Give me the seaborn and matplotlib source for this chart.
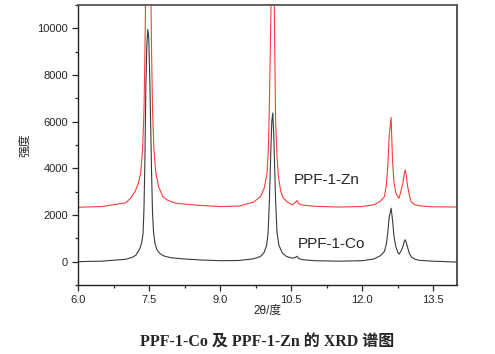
import numpy as np
import pandas as pd
import matplotlib
matplotlib.use("Agg")
import matplotlib.pyplot as plt
import seaborn as sns
from matplotlib.ticker import MultipleLocator

sns.set_style("ticks")
plt.rcParams['font.family'] = ['Liberation Sans', 'Noto Sans CJK SC', 'DejaVu Sans']

# XRD patterns (2theta in degrees, intensity)
co_x = [6.0, 6.5, 7.0, 7.15, 7.22, 7.30, 7.34, 7.37, 7.39, 7.41, 7.43, 7.45, 7.47, 7.49, 7.51,
        7.53, 7.55, 7.57, 7.59, 7.62, 7.66, 7.72, 7.8, 7.95, 8.2, 8.6, 9.0, 9.4, 9.7,
        9.85, 9.93, 9.98, 10.01, 10.04, 10.07, 10.09, 10.11, 10.13, 10.15, 10.17, 10.20, 10.24,
        10.31, 10.40, 10.52, 10.58, 10.62, 10.66, 10.75, 11.0, 11.5, 12.0,
        12.25, 12.38, 12.47, 12.51, 12.54, 12.57, 12.61, 12.64, 12.67, 12.71, 12.75, 12.78,
        12.82, 12.86, 12.89, 12.91, 12.93, 12.96, 13.00, 13.05, 13.12, 13.21, 13.5, 14.0]
co_y = [0, 20, 100, 190, 280, 550, 800, 1200, 2300, 4500, 7600, 9300, 9950, 9600, 8000,
        6000, 3800, 2100, 1300, 800, 520, 360, 250, 170, 120, 70, 40, 50, 120,
        220, 400, 700, 1200, 2650, 4800, 6000, 6370, 5500, 4060, 2600, 1240, 700,
        380, 220, 150, 170, 230, 130, 80, 40, 20, 40,
        115, 250, 440, 750, 1240, 1900, 2290, 1800, 1100, 650, 400, 320,
        450, 650, 880, 940, 820, 600, 330, 180, 100, 55, 20, -20]

zn_x = [6.0, 6.5, 7.0, 7.1, 7.2, 7.27, 7.32, 7.36, 7.39, 7.41, 7.43, 7.46, 7.48, 7.50, 7.53,
        7.55, 7.57, 7.60, 7.64, 7.70, 7.79, 7.9, 8.07, 8.5, 9.0, 9.4, 9.7,
        9.85, 9.93, 9.99, 10.02, 10.04, 10.07, 10.10, 10.12, 10.15, 10.17, 10.20, 10.23, 10.28,
        10.33, 10.42, 10.52, 10.58, 10.62, 10.66, 10.75, 11.0, 11.5, 12.0,
        12.25, 12.38, 12.47, 12.51, 12.54, 12.57, 12.61, 12.64, 12.67, 12.71, 12.75, 12.78,
        12.82, 12.86, 12.89, 12.91, 12.93, 12.96, 13.00, 13.03, 13.10, 13.21, 13.5, 14.0]
zn_y = [2330, 2360, 2520, 2700, 3000, 3350, 3800, 4800, 6500, 9000, 12500, 18000, 20000, 18000, 12500,
        9000, 6500, 4800, 3800, 3200, 2780, 2620, 2500, 2420, 2360, 2380, 2550,
        2780, 3150, 3800, 5000, 6900, 10500, 15000, 15000, 9500, 6000, 4500, 3630, 3000,
        2730, 2550, 2430, 2520, 2620, 2480, 2420, 2370, 2340, 2360,
        2440, 2580, 2790, 3300, 4070, 5400, 6180, 4360, 3400, 2950, 2780, 2720,
        3050, 3380, 3800, 3930, 3700, 3220, 2800, 2580, 2450, 2390, 2350, 2340]

samples = ["PPF-1-Co", "PPF-1-Zn"]
colors = {"PPF-1-Co": "#3a3a3a", "PPF-1-Zn": "#ff3b3b"}

df = pd.concat([
    pd.DataFrame({"x": co_x, "y": co_y, "sample": samples[0]}),
    pd.DataFrame({"x": zn_x, "y": zn_y, "sample": samples[1]}),
])

fig = plt.figure(figsize=(4.95, 3.54), dpi=100)
ax = fig.add_axes([0.158, 0.195, 0.765, 0.791])

sns.lineplot(data=df, x="x", y="y", hue="sample", palette=colors, sort=False,
             estimator=None, linewidth=0.8, legend=False, ax=ax)

ax.set_xlim(6.0, 14.0)
ax.set_ylim(-1000, 11000)
ax.xaxis.set_major_locator(MultipleLocator(1.5))
ax.xaxis.set_minor_locator(MultipleLocator(0.75))
ax.yaxis.set_major_locator(MultipleLocator(2000))
ax.yaxis.set_minor_locator(MultipleLocator(1000))
ax.xaxis.set_major_formatter(matplotlib.ticker.FormatStrFormatter('%.1f'))
ax.tick_params(which='major', length=4, width=0.9, labelsize=8, direction='out')
ax.tick_params(which='minor', length=2.5, width=0.9, direction='out')

for s in ax.spines.values():
    s.set_visible(True)
    s.set_linewidth(1.0)
    s.set_color('#222222')
ax.spines['top'].set_color('#555555')
ax.spines['right'].set_color('#444444')
ax.spines['top'].set_linewidth(1.3)
ax.spines['right'].set_linewidth(1.3)

ax.set_xlabel("2θ/度", fontsize=8.5, labelpad=0)
ax.set_ylabel("强度", fontsize=8.5, labelpad=4)

ax.text(11.25, 3500, "PPF-1-Zn", fontsize=11, ha='center', va='center')
ax.text(11.35, 770, "PPF-1-Co", fontsize=11, ha='center', va='center')

fig.text(0.54, 0.031, "PPF-1-Co 及 PPF-1-Zn 的 XRD 谱图", ha='center', va='center',
         fontsize=11.5, fontweight='bold', family=['Liberation Serif', 'Noto Sans CJK SC'])

fig.savefig("out.png", dpi=100)
